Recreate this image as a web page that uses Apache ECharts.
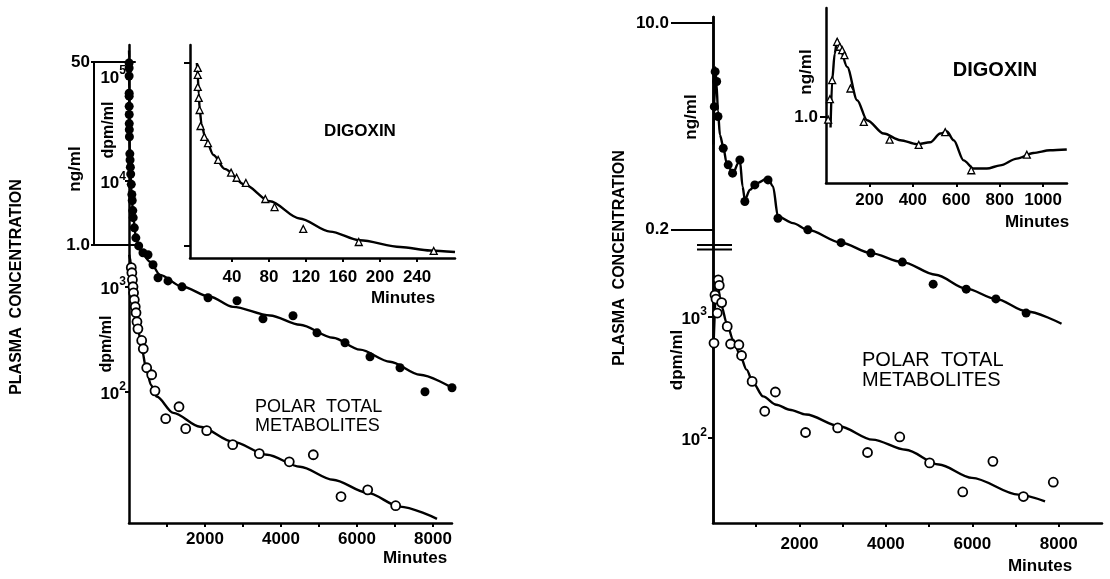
<!DOCTYPE html>
<html>
<head>
<meta charset="utf-8">
<script src="https://cdn.jsdelivr.net/npm/echarts@6/dist/echarts.min.js"></script>
<style>
html, body { margin: 0; background: #fff; }
#chart { width: 1110px; height: 579px; }
</style>
</head>
<body>
<div id="chart"></div>
<script>
// left panel, main plot: dpm/ml against minutes
var leftDigoxinPts = [[2.5,133000],[3,119000],[3.3,100000],[4,68700],[4.2,64300],[5,51500],[5.5,43100],[6.5,35300],[8,30900],[11,26500],[22,18200],[28,15900],[36,13600],[45,11700],[60,9350],[75,7500],[85,6560],[100,5260],[110,4510],[140,3610],[180,2900],[255,2430],[368,2090],[500,2000],[632,1610],[763,1210],[1026,1130],[1395,993],[2079,781],[2842,732],[3526,493],[4316,527],[4947,363],[5684,292],[6342,215],[7132,169],[7789,100],[8500,109]];
var leftDigoxinFit = [[1,175000],[2,150000],[3,112000],[4,75000],[6,45000],[10,30000],[20,19000],[40,12500],[70,7400],[110,4600],[180,2950],[289,2230],[553,1720],[816,1290],[1387,1000],[2132,798],[2737,640],[3711,530],[4500,433],[5368,326],[6079,251],[6868,193],[7658,145],[8500,109]];
var leftPolarPts = [[60,1510],[75,1350],[90,1160],[105,994],[120,871],[140,748],[165,642],[185,563],[210,462],[235,396],[334,307],[376,256],[466,169],[597,145],[684,102],[966,55.5],[1316,72],[1492,44.6],[2045,42.7],[2729,31.4],[3429,25.8],[4218,21.6],[4850,25.2],[5579,10.1],[6282,11.7],[7018,8.26]];
var leftPolarFit = [[5,2000],[50,1720],[100,1100],[158,748],[237,388],[342,251],[447,169],[579,116],[729,90],[1166,63],[1868,46.5],[2737,33.5],[3632,25.2],[4500,19.4],[5368,14.6],[6263,11],[7132,8.1],[8105,6.2]];

// left inset: digoxin ng/ml, first minutes
var leftInsetPts = [[3,45],[3,38.7],[3,30],[4,23.7],[5,18.3],[6,13],[10,10.3],[14,9.0],[25,6.3],[39,4.8],[45,4.3],[55,3.85],[76,2.73],[86,2.3],[117,1.44],[177,1.09],[258,0.9]];
var leftInsetFit = [[2,50],[3,38],[4,26],[5,19],[7,13.5],[11,10.2],[20,7.0],[32,5.2],[54,3.7],[81,2.6],[113,1.8],[146,1.36],[178,1.13],[222,0.98],[254,0.91],[281,0.88]];

// right panel, main plot: digoxin ng/ml, metabolites dpm/ml
var rightDigoxinPts = [[30,2.05],[50,3.98],[85,3.3],[115,1.7],[237,0.933],[352,0.681],[453,0.582],[622,0.748],[737,0.34],[967,0.466],[1273,0.512],[1503,0.248],[2194,0.199],[2963,0.156],[3653,0.128],[4381,0.108],[5094,0.0711],[5859,0.0647],[6545,0.0538],[7244,0.0411]];
var rightDigoxinFit = [[10,1.0],[30,2.1],[55,4.3],[80,3.2],[115,1.9],[160,1.2],[237,0.96],[315,0.703],[467,0.582],[582,0.703],[622,0.748],[684,0.452],[737,0.351],[852,0.424],[1006,0.481],[1273,0.528],[1388,0.452],[1503,0.256],[1849,0.226],[2194,0.199],[2963,0.156],[3653,0.128],[4381,0.108],[5150,0.085],[5859,0.0653],[6545,0.0538],[7244,0.0426],[8064,0.0336]];
var rightPolarPts = [[23,604],[46,1500],[69,1390],[99,1066],[122,2000],[145,1800],[200,1300],[329,828],[407,593],[599,585],[661,477],[905,292],[1197,166],[1443,239],[2141,111],[2884,121],[3575,76],[4321,102],[5012,62.4],[5778,36],[6476,64.3],[7182,33],[7873,43.3]];
var rightPolarFit = [[10,540],[85,2000],[200,1208],[315,883],[467,643],[622,484],[776,365],[928,284],[1158,220],[1466,188],[1773,171],[2157,156],[2924,125],[3690,97],[4459,80],[5226,60.5],[5992,47],[7067,34.2],[7682,30.1]];

// right inset: digoxin ng/ml, first 1100 minutes
var rightInsetPts = [[10,0.95],[18,1.4],[28.5,2.0],[51.5,4.13],[63.5,3.76],[74.5,3.53],[85,3.21],[112.6,1.71],[174,0.91],[293,0.65],[427,0.59],[549,0.75],[669,0.365],[925,0.49]];
var rightInsetFit = [[21,0.82],[28.5,2.0],[40,3.3],[51.5,4.32],[65,3.6],[97.5,2.57],[143.4,1.37],[189,0.94],[266,0.73],[342.5,0.644],[419,0.597],[480,0.62],[526,0.73],[557,0.76],[588,0.644],[634,0.44],[680,0.377],[741,0.377],[802,0.40],[879,0.455],[955,0.506],[1032,0.533],[1109,0.54]];

// tick labels
var mainTicks = [1000,2000,3000,4000,5000,6000,7000,8000];
var mainLabels = [2000,4000,6000,8000];
var leftInsetTicks = [40,80,120,160,200,240];
var rightInsetTicks = [200,400,600,800,1000];
var leftPowers = [100,1000,10000,100000];
var rightPowers = [100,1000];
var boxTicks = [1,50];
var ngTicks = [0.2,10];

var FONT = '"Liberation Sans", Arial, sans-serif';
var black = '#000';

function axisLine(w) {
	return {show: true, onZero: false, lineStyle: {color: black, width: w || 2.5}};
}
function plain(v) { return String(Math.round(v)); }
var tickFont = {color: black, fontFamily: FONT, fontWeight: 'bold', fontSize: 17};
var powRich = {
	b: {fontFamily: FONT, fontWeight: 'bold', fontSize: 17, color: black, lineHeight: 22, verticalAlign: 'bottom'},
	s: {fontFamily: FONT, fontWeight: 'bold', fontSize: 12, color: black, lineHeight: 12, verticalAlign: 'top'}
};
function powLabel(v) {
	return '{b|10}{s|' + Math.round(Math.log10(v)) + '}';
}

function fit(data, x, y) {
	return {type: 'line', xAxisIndex: x, yAxisIndex: y, data: data, symbol: 'none',
		smooth: 0.3, smoothMonotone: 'x', z: 2,
		lineStyle: {color: black, width: 2.4}};
}
function dots(data, x, y, kind) {
	var s = {type: 'scatter', xAxisIndex: x, yAxisIndex: y, data: data, z: 3, symbolSize: 9};
	if (kind === 'filled') {
		s.itemStyle = {color: black, opacity: 1};
	} else if (kind === 'open') {
		s.itemStyle = {color: '#fff', borderColor: black, borderWidth: 1.8, opacity: 1};
	} else {
		s.symbol = 'triangle';
		s.symbolSize = 7;
		s.itemStyle = {color: '#fff', borderColor: black, borderWidth: 1.3, opacity: 1};
	}
	return s;
}
function txt(x, y, text, size, bold, rot, align) {
	return {type: 'text', x: x, y: y, rotation: rot ? Math.PI / 2 : 0,
		style: {text: text, fill: black, fontFamily: FONT, fontSize: size,
			fontWeight: bold ? 'bold' : 'normal',
			align: align || 'center', verticalAlign: 'middle',
			textAlign: align || 'center', textVerticalAlign: 'middle'}};
}
function grid(l, t, w, h) {
	return {left: l, top: t, width: w, height: h, containLabel: false, outerBoundsMode: 'none'};
}

var chart = echarts.init(document.getElementById('chart'));
chart.setOption({
	animation: false,
	backgroundColor: '#fff',
	grid: [
		grid(129, 45, 323, 478),
		grid(94, 62, 41, 183),
		grid(190, 45, 265, 213),
		grid(713, 17, 389, 506),
		grid(826, 8, 241, 175)
	],
	xAxis: [
		{gridIndex: 0, type: 'value', min: 0, max: 8500, axisLine: axisLine(),
			axisTick: {show: true, length: 4, customValues: mainTicks, lineStyle: {color: black, width: 2}},
			axisLabel: Object.assign({customValues: mainLabels, margin: 8, formatter: plain}, tickFont),
			splitLine: {show: false}},
		{gridIndex: 1, type: 'value', min: 0, max: 1, position: 'bottom', axisLine: axisLine(2),
			axisTick: {show: false}, axisLabel: {show: false}, splitLine: {show: false}},
		{gridIndex: 1, type: 'value', min: 0, max: 1, position: 'top', axisLine: axisLine(2),
			axisTick: {show: false}, axisLabel: {show: false}, splitLine: {show: false}},
		{gridIndex: 2, type: 'value', min: -5.4, max: 281, axisLine: axisLine(),
			axisTick: {show: true, length: 4, customValues: leftInsetTicks, lineStyle: {color: black, width: 2}},
			axisLabel: Object.assign({customValues: leftInsetTicks, margin: 11, formatter: plain}, tickFont),
			splitLine: {show: false}},
		{gridIndex: 3, type: 'value', min: 0, max: 9000, axisLine: axisLine(),
			axisTick: {show: true, length: 4, customValues: mainTicks, lineStyle: {color: black, width: 2}},
			axisLabel: Object.assign({customValues: mainLabels, margin: 13, formatter: plain}, tickFont),
			splitLine: {show: false}},
		{gridIndex: 4, type: 'value', min: 0, max: 1110, axisLine: axisLine(),
			axisTick: {show: true, length: 4, customValues: rightInsetTicks, lineStyle: {color: black, width: 2}},
			axisLabel: Object.assign({customValues: rightInsetTicks, margin: 9, formatter: plain}, tickFont),
			splitLine: {show: false}}
	],
	yAxis: [
		{gridIndex: 0, type: 'log', position: 'left', min: 5.66, max: 197000, axisLine: axisLine(),
			axisTick: {show: true, length: 4, customValues: leftPowers, lineStyle: {color: black, width: 2}},
			axisLabel: {customValues: leftPowers, margin: 3, formatter: powLabel, rich: powRich},
			splitLine: {show: false}},
		{gridIndex: 1, type: 'log', position: 'left', min: 1, max: 50, axisLine: axisLine(2),
			axisTick: {show: true, length: 3, customValues: boxTicks, lineStyle: {color: black, width: 2}},
			axisLabel: Object.assign({customValues: boxTicks, margin: 4,
				formatter: function (v) { return v > 10 ? '50' : '1.0'; }}, tickFont),
			splitLine: {show: false}},
		{gridIndex: 2, type: 'log', position: 'left', min: 0.774, max: 73.4, axisLine: axisLine(),
			axisTick: {show: true, length: 6, customValues: boxTicks, lineStyle: {color: black, width: 2}},
			axisLabel: {show: false}, splitLine: {show: false}},
		{gridIndex: 3, type: 'log', position: 'left', offset: 0, min: 20, max: 290100, axisLine: axisLine(),
			axisTick: {show: true, length: 5, customValues: rightPowers, lineStyle: {color: black, width: 2}},
			axisLabel: {customValues: rightPowers, margin: 6, formatter: powLabel, rich: powRich},
			splitLine: {show: false}},
		{gridIndex: 3, type: 'log', position: 'left', offset: 0, min: 0.000772, max: 11.2, axisLine: axisLine(),
			axisTick: {show: true, length: 42, customValues: ngTicks, lineStyle: {color: black, width: 2}},
			axisLabel: Object.assign({customValues: ngTicks, margin: 44,
				formatter: function (v) { return v.toFixed(1); }}, tickFont),
			splitLine: {show: false}},
		{gridIndex: 4, type: 'log', position: 'left', min: 0.287, max: 7.82, axisLine: axisLine(),
			axisTick: {show: true, length: 6, customValues: [1], lineStyle: {color: black, width: 2}},
			axisLabel: Object.assign({customValues: [1], margin: 8,
				formatter: function (v) { return v.toFixed(1); }}, tickFont),
			splitLine: {show: false}}
	],
	series: [
		fit(leftDigoxinFit, 0, 0),
		fit(leftPolarFit, 0, 0),
		dots(leftDigoxinPts, 0, 0, 'filled'),
		dots(leftPolarPts, 0, 0, 'open'),
		fit(leftInsetFit, 3, 2),
		dots(leftInsetPts, 3, 2, 'tri'),
		fit(rightDigoxinFit, 4, 4),
		fit(rightPolarFit, 4, 3),
		dots(rightDigoxinPts, 4, 4, 'filled'),
		dots(rightPolarPts, 4, 3, 'open'),
		fit(rightInsetFit, 5, 5),
		dots(rightInsetPts, 5, 5, 'tri')
	],
	graphic: [
		txt(17, 287, 'PLASMA  CONCENTRATION', 16, true, true),
		txt(75, 169, 'ng/ml', 17, true, true),
		txt(109, 130, 'dpm/ml', 16, true, true),
		txt(107, 344, 'dpm/ml', 16, true, true),
		txt(360, 131, 'DIGOXIN', 17, true),
		txt(255, 407, 'POLAR  TOTAL', 18, false, false, 'left'),
		txt(255, 426, 'METABOLITES', 18, false, false, 'left'),
		txt(403, 298, 'Minutes', 17, true),
		txt(415, 558, 'Minutes', 17, true),
		txt(620, 258, 'PLASMA  CONCENTRATION', 16, true, true),
		txt(691, 117, 'ng/ml', 17, true, true),
		txt(677, 360, 'dpm/ml', 17, true, true),
		txt(806, 72, 'ng/ml', 17, true, true),
		txt(995, 70, 'DIGOXIN', 20, true),
		txt(862, 360, 'POLAR  TOTAL', 20, false, false, 'left'),
		txt(862, 380, 'METABOLITES', 20, false, false, 'left'),
		txt(1037, 222, 'Minutes', 17, true),
		txt(1040, 566, 'Minutes', 17, true),
		{type: 'line', shape: {x1: 697, y1: 245, x2: 732, y2: 245}, style: {stroke: black, lineWidth: 2}},
		{type: 'line', shape: {x1: 697, y1: 249.5, x2: 732, y2: 249.5}, style: {stroke: black, lineWidth: 2}}
	]
});
</script>
</body>
</html>
